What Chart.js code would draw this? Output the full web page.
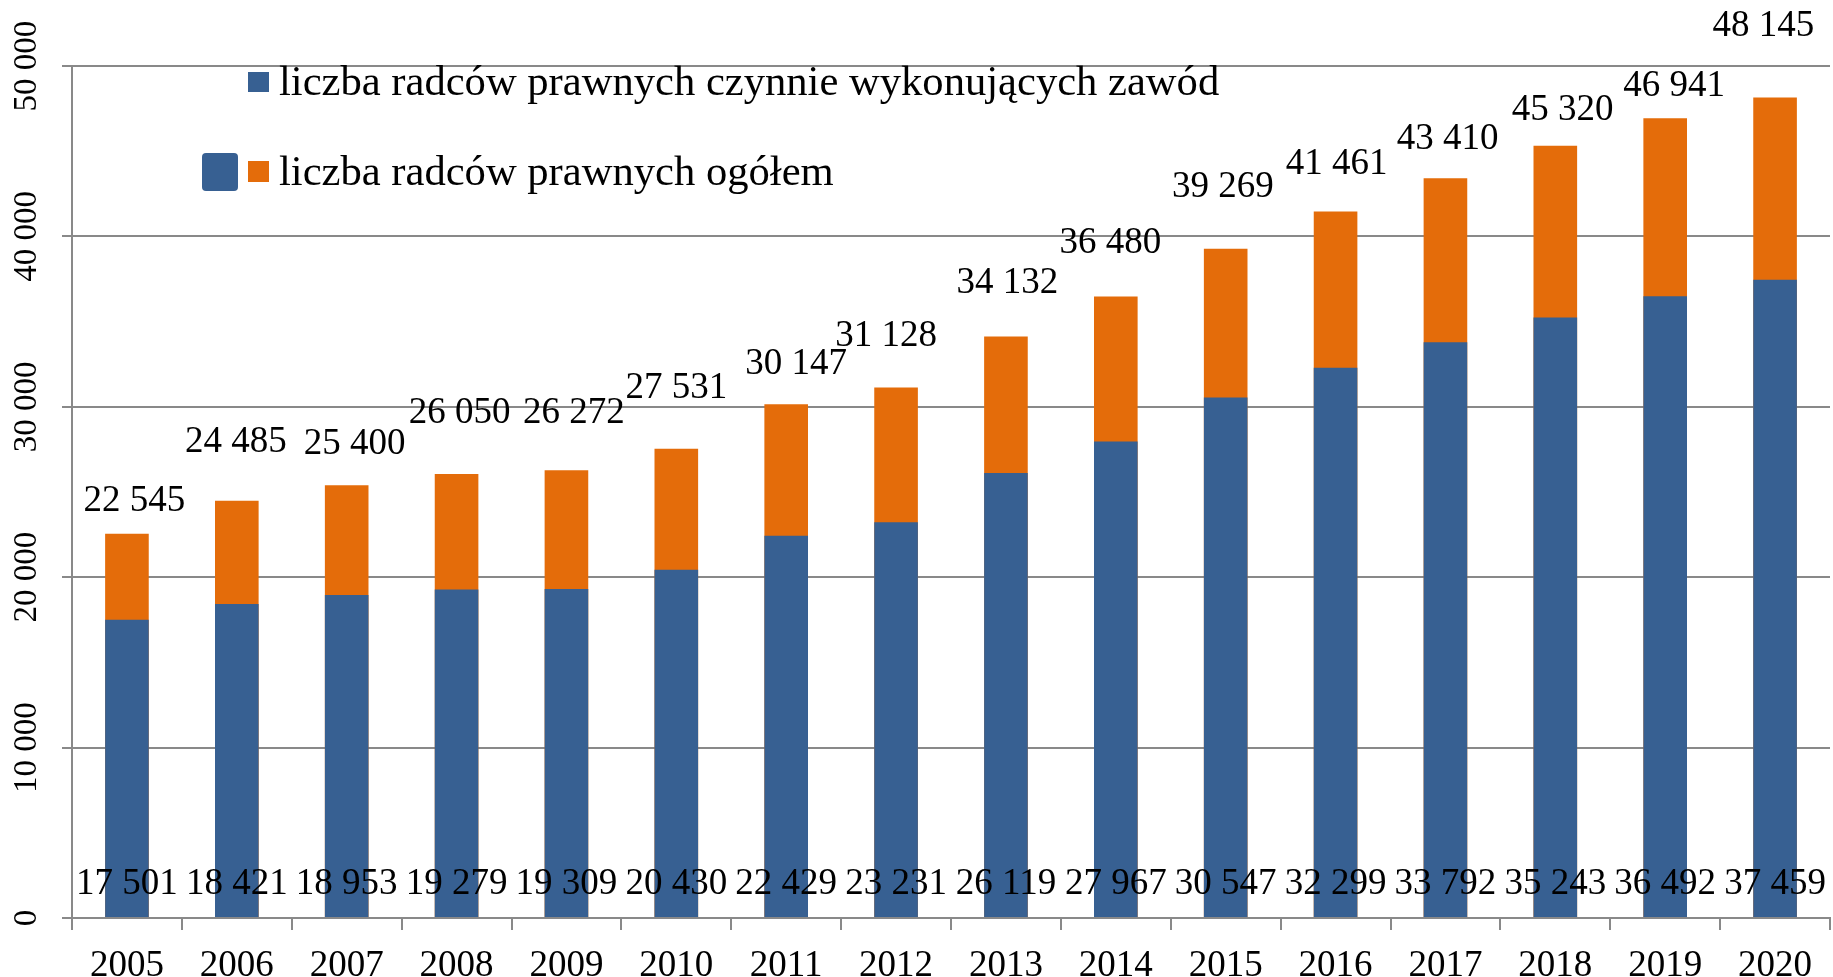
<!DOCTYPE html>
<html>
<head>
<meta charset="utf-8">
<script src="https://cdn.jsdelivr.net/npm/chart.js@4.4.1/dist/chart.umd.min.js"></script>
<style>
html,body{margin:0;padding:0;background:#fff;}
#wrap{width:1833px;height:977px;position:relative;}
</style>
</head>
<body>
<div id="wrap"><canvas id="c" width="1833" height="977"></canvas></div>
<script>
// ---- data ----
const years = ['2005','2006','2007','2008','2009','2010','2011','2012','2013','2014','2015','2016','2017','2018','2019','2020'];
const activeCounts = [17501,18421,18953,19279,19309,20430,22429,23231,26119,27967,30547,32299,33792,35243,36492,37459];
const totalCounts = [22545,24485,25400,26050,26272,27531,30147,31128,34132,36480,39269,41461,43410,45320,46941,48145];
const seriesNames = ['liczba radców prawnych czynnie wykonujących zawód','liczba radców prawnych ogółem'];
const yTicks = [0,10000,20000,30000,40000,50000];

// ---- styling ----
const BLUE = '#376092';
const ORANGE = '#E46C0A';
const GRID = '#898989';
const SERIF = '"Liberation Serif", "Times New Roman", serif';
// label nudges (px) relative to the bar top, mimicking the manual placement in the original
const totalLabelDy = [33,58,41,61,57,60.5,40.5,51,53,53,62,47,39,35.7,31.7,71.6];
const totalLabelDx = [7.5,-1,8,3,7.5,0,10,-10,1.5,-5.5,-2.7,1,2.3,7.3,9,-11.7];

function fmt(v){ return String(v).replace(/\B(?=(\d{3})+(?!\d))/g,' '); }

const labelsPlugin = {
  id:'labelsPlugin',
  afterDatasetsDraw(chart){
    const ctx = chart.ctx;
    const yScale = chart.scales.y;
    ctx.save();
    ctx.font = '37px ' + SERIF;
    ctx.fillStyle = '#000';
    ctx.textAlign = 'center';
    ctx.textBaseline = 'middle';
    const metaA = chart.getDatasetMeta(0);
    const metaT = chart.getDatasetMeta(1);
    metaT.data.forEach((bar,i)=>{
      ctx.fillText(fmt(totalCounts[i]), bar.x + totalLabelDx[i], bar.y - totalLabelDy[i]);
    });
    metaA.data.forEach((bar,i)=>{
      ctx.fillText(fmt(activeCounts[i]), bar.x, yScale.getPixelForValue(0) - 34);
    });
    // legend
    ctx.textAlign = 'left';
    ctx.font = '42.6px ' + SERIF;
    ctx.fillStyle = BLUE;
    ctx.fillRect(248, 72, 21, 20);
    ctx.fillStyle = '#000';
    ctx.fillText(seriesNames[0], 279, 84);
    ctx.fillStyle = BLUE;
    ctx.beginPath();
    ctx.roundRect(202, 153, 36, 38, 4);
    ctx.fill();
    ctx.fillStyle = ORANGE;
    ctx.fillRect(248, 161, 21, 21);
    ctx.fillStyle = '#000';
    ctx.fillText(seriesNames[1], 279, 174);
    ctx.restore();
  }
};

new Chart(document.getElementById('c'), {
  type:'bar',
  data:{
    labels: years,
    datasets:[
      {label:seriesNames[0], data:activeCounts, backgroundColor:BLUE, grouped:false, barPercentage:0.397, categoryPercentage:1},
      {label:seriesNames[1], data:totalCounts, backgroundColor:ORANGE, grouped:false, barPercentage:0.397, categoryPercentage:1}
    ]
  },
  options:{
    responsive:false,
    animation:false,
    layout:{padding:{top:66,right:3,left:0,bottom:0}},
    plugins:{legend:{display:false}, tooltip:{enabled:false}},
    scales:{
      x:{
        offset:true,
        afterFit(scale){ scale.height = 59; },
        grid:{offset:true, drawOnChartArea:false, drawTicks:true, tickLength:12, color:GRID, lineWidth:2},
        border:{color:GRID, width:2},
        ticks:{color:'#000', font:{family:SERIF, size:37}, padding:14, maxRotation:0, minRotation:0}
      },
      y:{
        min:0, max:50000,
        afterFit(scale){ scale.width = 72; },
        afterBuildTicks(scale){ scale.ticks = yTicks.map(v=>({value:v})); },
        grid:{color:GRID, lineWidth:2, tickLength:10},
        border:{color:GRID, width:2},
        ticks:{color:'#000', font:{family:SERIF, size:33}, minRotation:90, maxRotation:90, padding:-11,
               crossAlign:'center', callback:(v)=>fmt(v)}
      }
    }
  },
  plugins:[labelsPlugin]
});
</script>
</body>
</html>
